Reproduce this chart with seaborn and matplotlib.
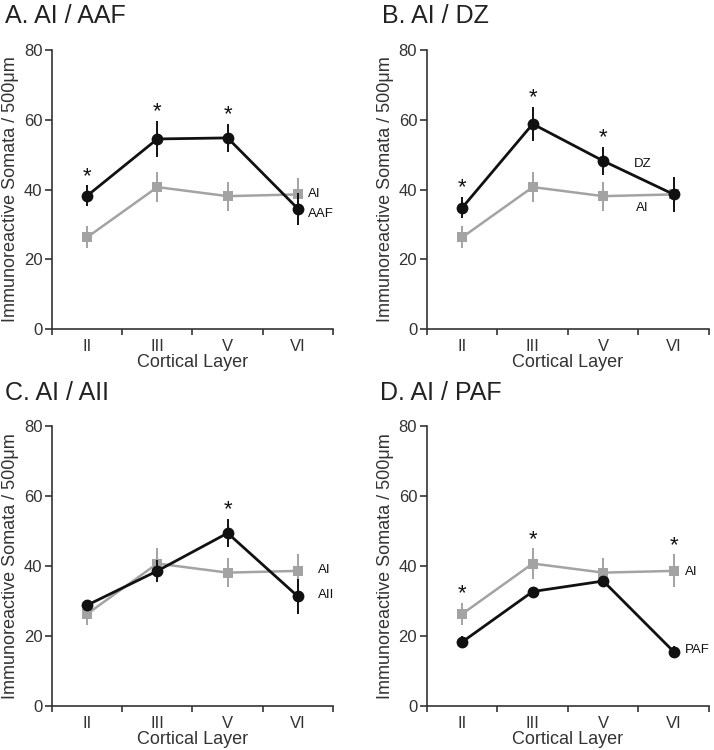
import matplotlib
matplotlib.use("Agg")
import matplotlib.pyplot as plt
import numpy as np
import pandas as pd
import seaborn as sns

# ---- data ----
layers = ["II", "III", "V", "VI"]
ai_mean = [26.3, 40.7, 38.1, 38.6]
ai_err = [3.1, 4.3, 4.2, 4.7]
aaf_mean = [38.2, 54.5, 54.8, 34.5]
aaf_err = [3.0, 5.2, 4.1, 4.6]
dz_mean = [34.8, 58.8, 48.2, 38.6]
dz_err = [3.1, 5.0, 4.0, 5.0]
aii_mean = [28.8, 38.6, 49.4, 31.3]
aii_err = [1.6, 3.1, 4.0, 5.1]
paf_mean = [18.3, 32.7, 35.7, 15.5]
paf_err = [1.8, 1.4, 0.8, 1.5]
sig_aaf = [1, 1, 1, 0]
sig_dz = [1, 1, 1, 0]
sig_aii = [0, 0, 1, 0]
sig_paf = [1, 1, 0, 1]
panel_titles = ["A. AI / AAF", "B. AI / DZ", "C. AI / AII", "D. AI / PAF"]
region_names = ["AAF", "DZ", "AII", "PAF"]

sns.set_style("ticks")
plt.rcParams["font.family"] = ["Liberation Sans", "DejaVu Sans"]

BLACK = "#111111"
GRAY = "#a3a3a3"
AXC = "#333333"

fig = plt.figure(figsize=(7.14, 7.5), dpi=100)
positions = [
    [0.0728, 0.5613, 0.3936, 0.372],
    [0.598, 0.5613, 0.395, 0.372],
    [0.0728, 0.0587, 0.3936, 0.3733],
    [0.598, 0.0587, 0.395, 0.3733],
]
title_xy = [(5, 23), (382, 23), (5, 400), (380, 400)]
# label placement (layout): (x, y) for AI label and region label
label_pos = [
    ((3.14, 38.8), (3.14, 32.9)),
    ((2.47, 34.6), (2.44, 47.3)),
    ((3.28, 38.8), (3.28, 31.7)),
    ((3.16, 38.4), (3.16, 16.0)),
]
series = [
    (aaf_mean, aaf_err, sig_aaf),
    (dz_mean, dz_err, sig_dz),
    (aii_mean, aii_err, sig_aii),
    (paf_mean, paf_err, sig_paf),
]

x = np.arange(len(layers))

for i in range(4):
    ax = fig.add_axes(positions[i])
    m, e, sig = series[i]
    name = region_names[i]
    df_ai = pd.DataFrame({"pos": x, "value": ai_mean, "err": ai_err})
    df_r = pd.DataFrame({"pos": x, "value": m, "err": e})

    ax.errorbar(df_ai["pos"], df_ai["value"], yerr=df_ai["err"], fmt="none",
                ecolor=GRAY, elinewidth=1.4, capsize=0, zorder=2)
    sns.lineplot(data=df_ai, x="pos", y="value", ax=ax, color=GRAY,
                 marker="s", markersize=7.5, markeredgewidth=0,
                 linewidth=1.8, zorder=3)
    ax.errorbar(df_r["pos"], df_r["value"], yerr=df_r["err"], fmt="none",
                ecolor=BLACK, elinewidth=1.4, capsize=0, zorder=4)
    sns.lineplot(data=df_r, x="pos", y="value", ax=ax, color=BLACK,
                 marker="o", markersize=8.5, markeredgewidth=0,
                 linewidth=2.0, zorder=5)

    # significance stars
    for j in range(len(layers)):
        if sig[j]:
            top = max(m[j] + e[j], ai_mean[j] + ai_err[j])
            ax.text(x[j], top + 1.0, "*", ha="center", va="baseline",
                    fontsize=16, color=BLACK)

    (axl, ayl), (rxl, ryl) = label_pos[i]
    ax.text(axl, ayl, "AI", ha="left", va="center", fontsize=9.5, color=BLACK)
    ax.text(rxl, ryl, name, ha="left", va="center", fontsize=9.5, color=BLACK)

    ax.set_xlim(-0.5, 3.5)
    ax.set_ylim(0, 80)
    ax.set_xticks(x)
    ax.set_xticklabels(layers)
    ax.set_xticks(np.arange(-0.5, 3.6, 1.0), minor=True)
    ax.set_yticks([0, 20, 40, 60, 80])
    ax.tick_params(axis="x", which="major", length=0, pad=7, labelsize=12,
                   colors=AXC)
    ax.tick_params(axis="x", which="minor", length=4, width=1.2, direction="out",
                   color=AXC)
    ax.tick_params(axis="y", length=5, width=1.2, direction="out", pad=2,
                   labelsize=12, colors=AXC)
    for s in ["top", "right"]:
        ax.spines[s].set_visible(False)
    for s in ["left", "bottom"]:
        ax.spines[s].set_color(AXC)
        ax.spines[s].set_linewidth(1.2)
    ax.set_xlabel("Cortical Layer", fontsize=13, color=AXC, labelpad=0)
    ax.set_ylabel("Immunoreactive Somata / 500\u03bcm", fontsize=13,
                  color=AXC, labelpad=3)

    tx, ty = title_xy[i]
    fig.text(tx / 714, 1 - ty / 750, panel_titles[i], ha="left",
             va="baseline", fontsize=18, color="#222222")

fig.savefig("out.png", dpi=100)
